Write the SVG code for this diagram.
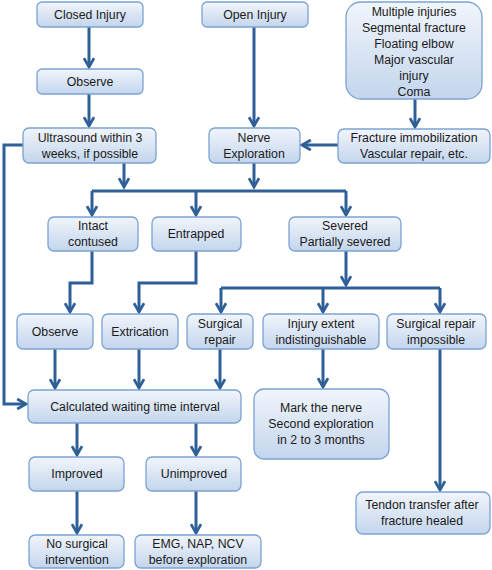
<svg xmlns="http://www.w3.org/2000/svg" width="492" height="570" viewBox="0 0 492 570">
<defs>
<linearGradient id="g" x1="0" y1="0" x2="0" y2="1">
<stop offset="0" stop-color="#f1f5fb"/>
<stop offset="1" stop-color="#c3d5ed"/>
</linearGradient>
<marker id="ah" viewBox="0 0 10 10" refX="8" refY="5" markerWidth="4.2" markerHeight="4.2" orient="auto" markerUnits="strokeWidth">
<path d="M1,1 L8,5 L1,9" fill="none" stroke="#2f5f97" stroke-width="2.2" stroke-linejoin="miter"/>
</marker>
</defs>
<style>
.b{fill:url(#g);stroke:#7ba2d2;stroke-width:1.3}
.t{font-family:"Liberation Sans",Arial,sans-serif;font-size:12.3px;fill:#1a1a1a;text-anchor:middle}
.c{fill:none;stroke:#2f5f97;stroke-width:3}
.a{marker-end:url(#ah)}
</style>
<rect width="492" height="570" fill="#ffffff"/>
<g id="connectors">
<path class="c a" d="M89,27 V67"/>
<path class="c a" d="M89,94 V126"/>
<path class="c a" d="M254,27 V126"/>
<path class="c a" d="M415,99 V127"/>
<path class="c a" d="M338,145 H302"/>
<path class="c a" d="M124,163 V187"/>
<path class="c a" d="M254,163 V187"/>
<path class="c" d="M92,191 H346"/>
<path class="c a" d="M92,191 V215"/>
<path class="c a" d="M196,191 V215"/>
<path class="c a" d="M346,191 V215"/>
<path class="c a" d="M92,251 V283 H70 V312"/>
<path class="c a" d="M196,251 V283 H139 V312"/>
<path class="c a" d="M346,251 V285"/>
<path class="c" d="M221,288 H440"/>
<path class="c a" d="M221,288 V312"/>
<path class="c a" d="M323,288 V312"/>
<path class="c a" d="M440,288 V312"/>
<path class="c a" d="M23,145 H4 V404 H26"/>
<path class="c a" d="M55,349 V388"/>
<path class="c a" d="M139,349 V388"/>
<path class="c a" d="M220,349 V388"/>
<path class="c a" d="M77,423 V455"/>
<path class="c a" d="M196,423 V455"/>
<path class="c a" d="M77,491 V533"/>
<path class="c a" d="M196,491 V533"/>
<path class="c a" d="M323,349 V387"/>
<path class="c a" d="M440,349 V490"/>
</g>
<g id="closed-injury"><rect class="b" x="37" y="2" width="106" height="25" rx="5"/><text class="t" x="90" y="19">Closed Injury</text></g>
<g id="observe-top"><rect class="b" x="37" y="69" width="106" height="25" rx="5"/><text class="t" x="90" y="86">Observe</text></g>
<g id="ultrasound"><rect class="b" x="23" y="128" width="133" height="35" rx="6"/><text class="t" x="90" y="142">Ultrasound within 3</text><text class="t" x="90" y="158">weeks, if possible</text></g>
<g id="open-injury"><rect class="b" x="202" y="2" width="106" height="25" rx="5"/><text class="t" x="255" y="19">Open Injury</text></g>
<g id="multiple"><rect class="b" x="346" y="2" width="136" height="97" rx="15"/>
<text class="t" x="414" y="16">Multiple injuries</text><text class="t" x="414" y="32">Segmental fracture</text><text class="t" x="414" y="48">Floating elbow</text><text class="t" x="414" y="64">Major vascular</text><text class="t" x="414" y="80">injury</text><text class="t" x="414" y="96">Coma</text></g>
<g id="nerve-exploration"><rect class="b" x="209" y="128" width="91" height="35" rx="6"/><text class="t" x="254" y="142">Nerve</text><text class="t" x="254" y="158">Exploration</text></g>
<g id="fracture"><rect class="b" x="338" y="129" width="152" height="34" rx="6"/><text class="t" x="414" y="142">Fracture immobilization</text><text class="t" x="414" y="158">Vascular repair, etc.</text></g>
<g id="intact"><rect class="b" x="48" y="217" width="90" height="34" rx="6"/><text class="t" x="93" y="230">Intact</text><text class="t" x="93" y="246">contused</text></g>
<g id="entrapped"><rect class="b" x="152" y="217" width="89" height="34" rx="6"/><text class="t" x="196" y="238">Entrapped</text></g>
<g id="severed"><rect class="b" x="289" y="217" width="112" height="34" rx="6"/><text class="t" x="345" y="230">Severed</text><text class="t" x="345" y="246">Partially severed</text></g>
<g id="observe-2"><rect class="b" x="17" y="314" width="76" height="35" rx="6"/><text class="t" x="55" y="336">Observe</text></g>
<g id="extrication"><rect class="b" x="102" y="314" width="76" height="35" rx="6"/><text class="t" x="140" y="336">Extrication</text></g>
<g id="surgical-repair"><rect class="b" x="187" y="314" width="66" height="35" rx="6"/><text class="t" x="220" y="328">Surgical</text><text class="t" x="220" y="344">repair</text></g>
<g id="injury-extent"><rect class="b" x="263" y="314" width="116" height="35" rx="6"/><text class="t" x="321" y="328">Injury extent</text><text class="t" x="321" y="344">indistinguishable</text></g>
<g id="repair-impossible"><rect class="b" x="387" y="314" width="99" height="35" rx="6"/><text class="t" x="436" y="328">Surgical repair</text><text class="t" x="436" y="344">impossible</text></g>
<g id="calculated"><rect class="b" x="28" y="390" width="213" height="33" rx="6"/><text class="t" x="135" y="411">Calculated waiting time interval</text></g>
<g id="mark-nerve"><rect class="b" x="254" y="389" width="135" height="70" rx="10"/><text class="t" x="321" y="412">Mark the nerve</text><text class="t" x="321" y="428">Second exploration</text><text class="t" x="321" y="444">in 2 to 3 months</text></g>
<g id="improved"><rect class="b" x="29" y="457" width="95" height="34" rx="6"/><text class="t" x="77" y="478">Improved</text></g>
<g id="unimproved"><rect class="b" x="146" y="457" width="95" height="34" rx="6"/><text class="t" x="194" y="478">Unimproved</text></g>
<g id="tendon"><rect class="b" x="356" y="492" width="134" height="42" rx="7"/><text class="t" x="422" y="509">Tendon transfer after</text><text class="t" x="422" y="525">fracture healed</text></g>
<g id="no-surgical"><rect class="b" x="29" y="535" width="95" height="33" rx="6"/><text class="t" x="77" y="548">No surgical</text><text class="t" x="77" y="564">intervention</text></g>
<g id="emg"><rect class="b" x="135" y="535" width="126" height="33" rx="6"/><text class="t" x="198" y="548">EMG, NAP, NCV</text><text class="t" x="198" y="564">before exploration</text></g>
</svg>
